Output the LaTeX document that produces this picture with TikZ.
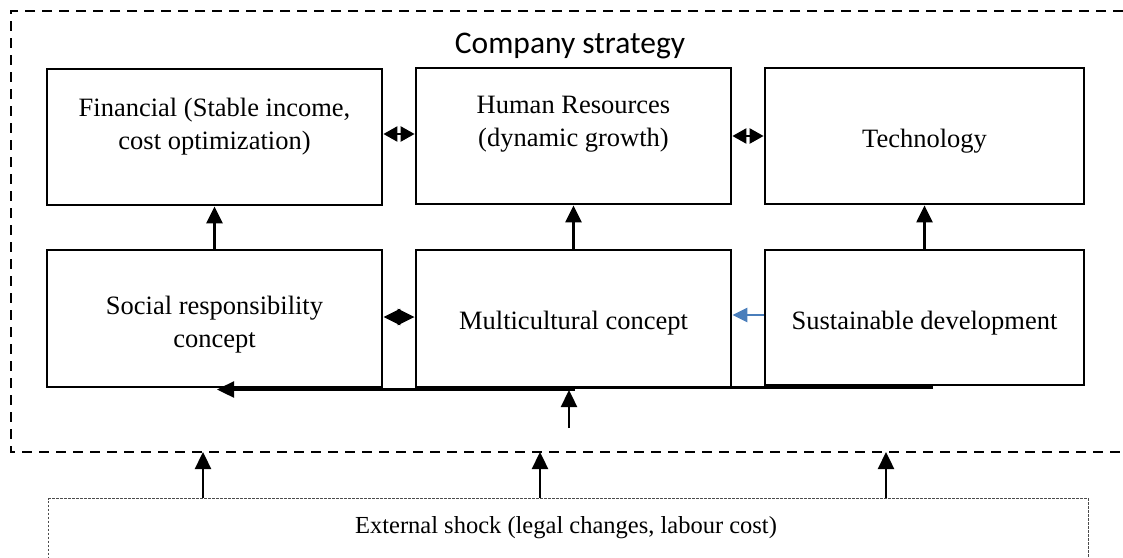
\documentclass[tikz,border=0pt]{standalone}
\usepackage{fontspec}
\setmainfont{Liberation Serif}
\newfontfamily\titlefont{Carlito}
\usetikzlibrary{arrows.meta}
\definecolor{arrowblue}{HTML}{4A7EBB}
\begin{document}
\begin{tikzpicture}[x=1pt,y=-1pt,
  box/.style={draw,line width=2.8pt,inner sep=0pt},
  txt/.style={align=center,font=\fontsize{26.5}{33}\selectfont,inner sep=0pt},
  arr/.style={line width=2.4pt,-{Triangle[length=17pt,width=16pt]}},
  darr/.style={line width=2.4pt,{Triangle[length=14pt,width=15pt]}-{Triangle[length=14pt,width=15pt]}},
  ddarr/.style={line width=2.4pt,{Triangle[length=17pt,width=16pt]}-{Triangle[length=17pt,width=16pt]}},
  outer/.style={line width=2.6pt,dash pattern=on 10pt off 7pt},
  dotbox/.style={draw,line width=1.1pt,dash pattern=on 2.5pt off 1.5pt,draw=black!70}]
\useasboundingbox (0,0) rectangle (1123,557);
% outer dashed frame
\draw[outer] (1140,11) -- (11,11) -- (11,452) -- (1140,452);
\node[font=\titlefont\fontsize{31.5}{36}\selectfont,inner sep=0pt] (title) at (570,46) {Company strategy};
% boxes
\node[box,minimum width=335pt,minimum height=136pt] (fin) at (214.5,137) {};
\node[box,minimum width=315pt,minimum height=136pt] (hr) at (573.5,136) {};
\node[box,minimum width=319pt,minimum height=136pt] (tech) at (924.5,136) {};
\node[box,minimum width=335pt,minimum height=137pt] (soc) at (214.5,318.5) {};
\node[box,minimum width=315pt,minimum height=137pt] (multi) at (573.5,318.5) {};
\node[box,minimum width=319pt,minimum height=135pt] (sus) at (924.5,317.5) {};
% texts
\node[txt] (fint) at (214.5,127) {Financial (Stable income,\\cost optimization)};
\node[txt] (hrt) at (573.5,124) {Human Resources\\(dynamic growth)};
\node[txt] (techt) at (924.5,141) {Technology};
\node[txt] (soct) at (214.5,325) {Social responsibility\\concept};
\node[txt] (multit) at (573.5,323) {Multicultural concept};
\node[txt] (sust) at (924.5,323) {Sustainable development};
% vertical arrows
\draw[arr] (soc.north) -- (fin.south);
\draw[arr] (multi.north) -- (hr.south);
\draw[arr] (sus.north) -- (tech.south);
% horizontal double arrows
\draw[darr] ([yshift=3pt]fin.east) -- ([yshift=3pt]fin.east -| hr.west);
\draw[darr] (hr.east) -- (hr.east -| tech.west);
\draw[ddarr] ([yshift=1.5pt]soc.east) -- ([yshift=1.5pt]soc.east -| multi.west);
\draw[line width=2.4pt,arrowblue,-{Triangle[length=15pt,width=14pt]}] ([yshift=2.5pt]sus.west) -- ([yshift=2.5pt]sus.west -| multi.east);
% bottom feedback line
\coordinate (fb1) at (933,387.5);
\coordinate (fb2) at (575,387.5);
\coordinate (fb3) at (217,389.5);
\draw[line width=2.4pt] (fb1) -- (fb2);
\draw[arr] (575,389.5) -- (fb3);
\coordinate (upb) at (569,428);
\draw[arr] (upb) -- (569,390);
% external shock
\node[dotbox,minimum width=1040pt,minimum height=90pt,anchor=north west] (ext) at (48,498) {};
\node[txt,font=\fontsize{24.5}{30}\selectfont] (extt) at (566,528) {External shock (legal changes, labour cost)};
\coordinate (o1) at (203,452);
\coordinate (o2) at (540,452);
\coordinate (o3) at (886,452);
\draw[arr] (ext.north -| o1) -- (o1);
\draw[arr] (ext.north -| o2) -- (o2);
\draw[arr] (ext.north -| o3) -- (o3);
\end{tikzpicture}
\end{document}
